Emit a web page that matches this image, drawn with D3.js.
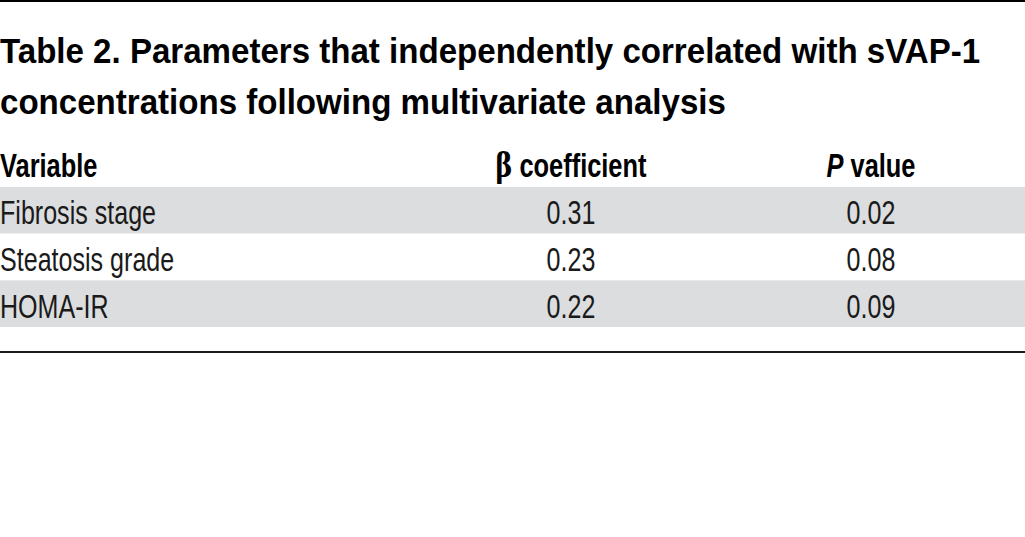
<!DOCTYPE html>
<html lang="en">
<head>
  <meta charset="UTF-8">
  <title>Table 2</title>
  <script src="https://d3js.org/d3.v7.min.js"></script>
  <style>
    body { margin: 0; background: #fff; }
    svg { display: block; }
    .title { font-family: 'Liberation Sans', Arial, sans-serif; font-weight: bold; font-size: 35px; fill: #000; }
    .head { font-family: 'Liberation Sans', Arial, sans-serif; font-weight: bold; font-size: 33px; fill: #000; }
    .cell { font-family: 'Liberation Sans', Arial, sans-serif; font-size: 33px; fill: #1a1a1a; }
  </style>
</head>
<body>
<div id="chart"></div>
<script>
  // table content
  const titleLines = [
    "Table 2. Parameters that independently correlated with sVAP-1",
    "concentrations following multivariate analysis"
  ];
  const headers = ["Variable", "β coefficient", "P value"];
  const variables = ["Fibrosis stage", "Steatosis grade", "HOMA-IR"];
  const betaCoef = ["0.31", "0.23", "0.22"];
  const pValues = ["0.02", "0.08", "0.09"];

  const width = 1025, height = 537;
  // the source face is a condensed DIN-like font, squeeze horizontally
  const titleSx = 0.945, headSx = 0.77, cellSx = 0.76;

  const svg = d3.select("#chart").append("svg")
    .attr("width", width)
    .attr("height", height);

  const place = (x, y, sx) => `translate(${x},${y}) scale(${sx},1)`;

  // top rule
  svg.append("rect").attr("x", 0).attr("y", 0).attr("width", width).attr("height", 2).attr("fill", "#000");

  // title
  svg.selectAll(".title")
    .data(titleLines)
    .enter().append("text")
    .attr("class", "title")
    .attr("transform", (d, i) => place(0, 63 + i * 51, titleSx))
    .text(d => d);

  // rows
  const y = d3.scaleBand()
    .domain(d3.range(variables.length))
    .range([187, 327])
    .padding(0);

  svg.selectAll(".band")
    .data(variables)
    .enter().append("rect")
    .attr("class", "band")
    .attr("x", 0)
    .attr("y", (d, i) => y(i))
    .attr("width", width)
    .attr("height", y.bandwidth())
    .attr("fill", (d, i) => i % 2 === 0 ? "#dcdddf" : "#fff");

  // column anchors
  const colX = [0, 571, 871];
  const colAnchor = ["start", "middle", "middle"];

  // header
  const head = svg.selectAll(".head")
    .data(headers)
    .enter().append("text")
    .attr("class", "head")
    .attr("transform", (d, i) => place(colX[i], 177, headSx))
    .attr("text-anchor", (d, i) => colAnchor[i]);
  head.each(function (d, i) {
    const t = d3.select(this);
    if (i === 2) {
      t.append("tspan").attr("font-style", "italic").text("P");
      t.append("tspan").text(" value");
    } else if (i === 1) {
      t.append("tspan").attr("font-family", "'DejaVu Serif', serif").text("β");
      t.append("tspan").text(" coefficient");
    } else {
      t.text(d);
    }
  });

  // body cells
  const columns = [variables, betaCoef, pValues];
  columns.forEach((col, c) => {
    svg.selectAll(".c" + c)
      .data(col)
      .enter().append("text")
      .attr("class", "cell c" + c)
      .attr("transform", (d, i) => place(colX[c], y(i) + y.bandwidth() - 9.5, cellSx))
      .attr("text-anchor", colAnchor[c])
      .text(d => d);
  });

  // bottom rule
  svg.append("rect").attr("x", 0).attr("y", 351).attr("width", width).attr("height", 2).attr("fill", "#1a1a1a");
</script>
</body>
</html>
